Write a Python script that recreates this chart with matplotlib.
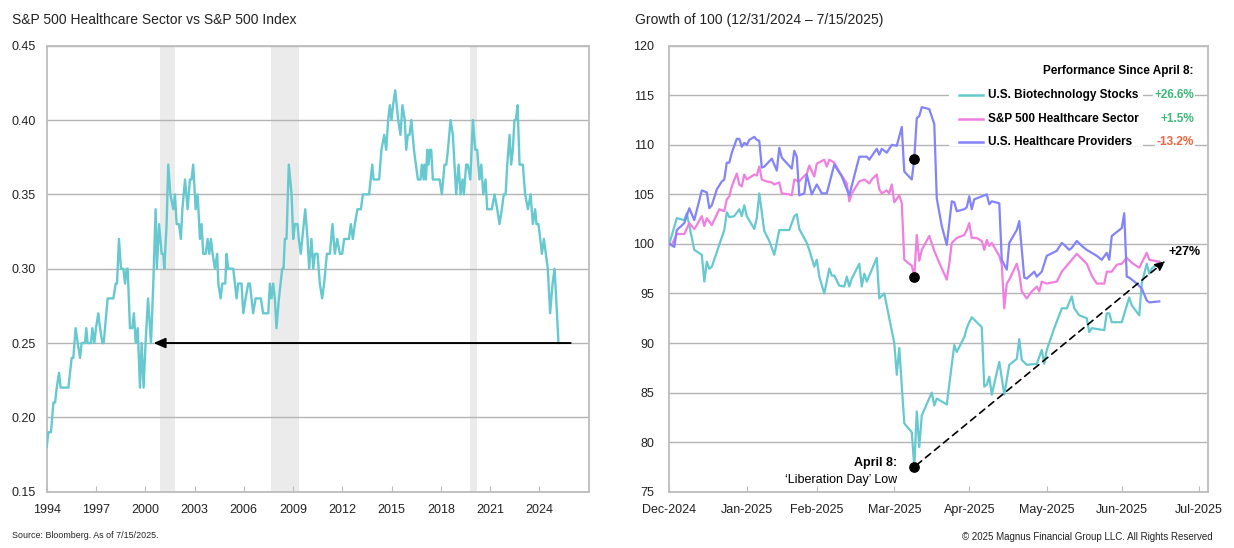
import matplotlib
matplotlib.use("Agg")
import matplotlib.pyplot as plt
import matplotlib.dates as mdates
from matplotlib.ticker import FormatStrFormatter
from matplotlib import font_manager as fm
import numpy as np
import pandas as pd

# ---------------- data: left chart (ratio of S&P 500 HC sector to S&P 500) -------------
ratio_years = [1994.00, 1994.10, 1994.26, 1994.41, 1994.51, 1994.61, 1994.75, 1994.85, 1995.32, 1995.52,
               1995.62, 1995.76, 1995.89, 1996.03, 1996.13, 1996.33, 1996.41, 1996.49, 1996.70, 1996.78,
               1996.90, 1997.00, 1997.14, 1997.25, 1997.39, 1997.47, 1997.55, 1997.71, 1998.06, 1998.20,
               1998.28, 1998.40, 1998.52, 1998.67, 1998.77, 1998.87, 1998.93, 1999.07, 1999.21, 1999.31,
               1999.42, 1999.54, 1999.68, 1999.78, 1999.90, 2000.02, 2000.17, 2000.35, 2000.49, 2000.63,
               2000.71, 2000.84, 2001.00, 2001.10, 2001.16, 2001.30, 2001.40, 2001.53, 2001.71, 2001.81,
               2001.91, 2002.05, 2002.17, 2002.26, 2002.42, 2002.58, 2002.72, 2002.82, 2002.92, 2003.07,
               2003.19, 2003.33, 2003.43, 2003.53, 2003.68, 2003.80, 2003.90, 2004.00, 2004.10, 2004.24,
               2004.38, 2004.45, 2004.59, 2004.69, 2004.87, 2004.95, 2005.05, 2005.36, 2005.56, 2005.66,
               2005.86, 2005.97, 2006.11, 2006.27, 2006.37, 2006.57, 2006.72, 2007.04, 2007.18, 2007.49,
               2007.59, 2007.69, 2007.79, 2007.89, 2007.99, 2008.14, 2008.34, 2008.42, 2008.50, 2008.60,
               2008.74, 2008.91, 2009.01, 2009.11, 2009.27, 2009.35, 2009.47, 2009.56, 2009.74, 2009.88,
               2009.98, 2010.12, 2010.23, 2010.33, 2010.49, 2010.63, 2010.77, 2010.89, 2011.06, 2011.24,
               2011.40, 2011.54, 2011.69, 2011.85, 2011.99, 2012.11, 2012.40, 2012.52, 2012.64, 2012.76,
               2012.92, 2013.13, 2013.25, 2013.63, 2013.82, 2013.90, 2014.24, 2014.38, 2014.55, 2014.67,
               2014.79, 2014.89, 2014.99, 2015.09, 2015.22, 2015.40, 2015.54, 2015.66, 2015.80, 2015.89,
               2015.99, 2016.09, 2016.20, 2016.36, 2016.60, 2016.76, 2016.84, 2016.95, 2017.01, 2017.09,
               2017.17, 2017.25, 2017.33, 2017.41, 2017.51, 2017.92, 2018.06, 2018.22, 2018.33, 2018.43,
               2018.59, 2018.73, 2018.93, 2019.08, 2019.20, 2019.32, 2019.40, 2019.54, 2019.64, 2019.79,
               2019.95, 2020.09, 2020.21, 2020.35, 2020.46, 2020.58, 2020.72, 2020.82, 2021.10, 2021.27,
               2021.43, 2021.57, 2021.71, 2021.83, 2021.94, 2022.04, 2022.18, 2022.28, 2022.38, 2022.48,
               2022.57, 2022.67, 2022.79, 2022.99, 2023.13, 2023.30, 2023.46, 2023.60, 2023.74, 2023.82,
               2023.94, 2024.05, 2024.15, 2024.27, 2024.39, 2024.51, 2024.65, 2024.80, 2024.92, 2025.02,
               2025.16]
ratio_values = [0.18, 0.19, 0.19, 0.21, 0.21, 0.22, 0.23, 0.22, 0.22, 0.24,
                0.24, 0.26, 0.25, 0.24, 0.25, 0.25, 0.26, 0.25, 0.25, 0.26,
                0.25, 0.26, 0.27, 0.26, 0.25, 0.25, 0.26, 0.28, 0.28, 0.29,
                0.29, 0.32, 0.30, 0.30, 0.29, 0.30, 0.30, 0.26, 0.26, 0.27,
                0.25, 0.26, 0.22, 0.25, 0.22, 0.25, 0.28, 0.25, 0.29, 0.34,
                0.30, 0.33, 0.31, 0.31, 0.30, 0.33, 0.37, 0.35, 0.34, 0.35,
                0.33, 0.33, 0.32, 0.34, 0.36, 0.34, 0.36, 0.36, 0.37, 0.34,
                0.35, 0.32, 0.33, 0.31, 0.31, 0.32, 0.31, 0.32, 0.31, 0.30,
                0.31, 0.29, 0.28, 0.29, 0.29, 0.31, 0.30, 0.30, 0.28, 0.29,
                0.29, 0.27, 0.28, 0.29, 0.29, 0.27, 0.28, 0.28, 0.27, 0.27,
                0.29, 0.28, 0.29, 0.28, 0.26, 0.28, 0.30, 0.30, 0.32, 0.32,
                0.37, 0.35, 0.32, 0.33, 0.33, 0.32, 0.31, 0.32, 0.34, 0.32,
                0.30, 0.32, 0.30, 0.31, 0.31, 0.29, 0.28, 0.29, 0.31, 0.31,
                0.33, 0.31, 0.32, 0.31, 0.31, 0.32, 0.32, 0.33, 0.32, 0.33,
                0.34, 0.34, 0.35, 0.35, 0.37, 0.36, 0.36, 0.38, 0.39, 0.38,
                0.40, 0.41, 0.40, 0.41, 0.42, 0.40, 0.39, 0.41, 0.40, 0.38,
                0.39, 0.39, 0.40, 0.38, 0.36, 0.36, 0.37, 0.36, 0.37, 0.36,
                0.38, 0.37, 0.38, 0.38, 0.36, 0.36, 0.35, 0.37, 0.37, 0.38,
                0.40, 0.39, 0.35, 0.37, 0.35, 0.36, 0.35, 0.37, 0.37, 0.36,
                0.40, 0.38, 0.38, 0.36, 0.37, 0.35, 0.36, 0.34, 0.34, 0.35,
                0.34, 0.33, 0.34, 0.35, 0.35, 0.37, 0.39, 0.37, 0.38, 0.40,
                0.40, 0.41, 0.37, 0.37, 0.35, 0.34, 0.35, 0.33, 0.34, 0.33,
                0.33, 0.32, 0.31, 0.32, 0.31, 0.30, 0.27, 0.29, 0.30, 0.28,
                0.25]
recessions = [(2000.89, 2001.81), (2007.63, 2009.39), (2019.79, 2020.21)]
current_level = 0.25
arrow_span = (2025.9, 2000.5)
left_years_ticks = list(range(1994, 2025, 3))

# ---------------- data: right chart (growth of 100, days since 12/31/2024) -------------
start_date = "2024-12-31"
april8_day = 98

biotech_days = [0, 3, 6, 7, 10, 13, 14, 15, 16, 17, 22, 23, 24, 26, 28, 29, 30, 31, 34, 35,
                36, 38, 40, 42, 44, 48, 50, 51, 52, 55, 56, 58, 59, 60, 62, 64, 65, 66, 68, 70,
                71, 72, 73, 76, 77, 78, 79, 83, 84, 86, 90, 91, 92, 94, 97, 98, 99, 100, 101, 105,
                106, 107, 111, 114, 115, 118, 119, 120, 121, 123, 125, 126, 127, 128, 129, 132, 134, 136, 139, 140,
                141, 143, 147, 149, 150, 151, 154, 157, 159, 161, 162, 164, 167, 168, 169, 174, 175, 176, 177, 181,
                184, 185, 188, 189, 191, 192, 193, 196]
biotech_vals = [100.0, 102.6, 102.4, 103.1, 99.4, 98.9, 96.2, 98.2, 97.5, 97.7, 101.4, 103.2, 102.7, 102.8, 103.5, 102.8, 103.9, 102.8, 101.5, 102.6,
                105.1, 101.3, 100.3, 98.9, 101.4, 101.4, 102.8, 103.0, 101.5, 100.1, 99.4, 97.7, 98.4, 96.7, 95.0, 97.5, 96.8, 96.8, 95.8, 95.7,
                96.7, 95.7, 96.5, 98.0, 95.7, 97.0, 96.2, 98.6, 94.5, 95.0, 90.0, 86.8, 89.5, 81.9, 81.0, 77.5, 83.1, 79.5, 82.7, 85.0,
                83.7, 84.4, 83.8, 89.8, 89.1, 90.6, 91.5, 92.1, 92.6, 92.1, 91.6, 85.6, 85.8, 86.6, 84.8, 88.1, 84.8, 87.8, 88.4, 90.4,
                88.3, 87.8, 87.9, 89.3, 87.9, 89.3, 91.5, 93.5, 93.5, 94.7, 93.5, 92.8, 92.5, 91.1, 91.5, 91.3, 93.0, 93.0, 92.1, 92.1,
                94.6, 93.8, 92.8, 96.0, 98.0, 97.0, 97.5, 98.2]

hc_days = [0, 1, 3, 6, 8, 10, 11, 13, 14, 15, 17, 20, 22, 23, 24, 25, 27, 28, 29, 30,
           31, 34, 35, 36, 37, 39, 41, 42, 44, 45, 48, 49, 50, 52, 53, 55, 56, 58, 59, 62,
           63, 64, 66, 68, 71, 72, 73, 76, 78, 80, 81, 83, 84, 85, 87, 88, 89, 90, 92, 93,
           94, 97, 98, 99, 100, 101, 104, 106, 108, 111, 112, 113, 115, 118, 119, 120, 121, 123, 125, 126,
           127, 128, 129, 132, 133, 134, 135, 136, 139, 140, 141, 143, 145, 147, 148, 149, 151, 155, 157, 161,
           163, 165, 167, 169, 171, 174, 175, 177, 179, 181, 183, 185, 188, 191, 192, 196]
hc_vals = [100.0, 99.9, 101.0, 101.0, 102.1, 101.5, 101.9, 102.8, 101.8, 102.6, 101.9, 103.5, 103.3, 104.5, 104.8, 105.8, 107.1, 106.0, 105.8, 107.0,
           106.5, 107.0, 106.9, 107.8, 106.5, 106.3, 106.2, 106.0, 106.2, 105.1, 105.0, 104.9, 106.5, 106.3, 106.6, 107.1, 107.9, 106.8, 108.1, 108.5,
           107.8, 108.5, 108.2, 107.3, 106.1, 104.3, 105.1, 106.3, 106.5, 106.1, 106.5, 107.0, 105.5, 105.1, 105.4, 105.1, 106.0, 104.2, 104.9, 104.1,
           98.4, 97.8, 96.7, 100.9, 98.3, 99.4, 100.8, 99.3, 98.1, 96.4, 98.0, 100.1, 100.6, 100.9, 101.4, 102.1, 100.6, 100.6, 100.3, 99.4,
           100.4, 99.8, 100.1, 98.8, 97.9, 93.5, 96.0, 96.4, 98.0, 97.0, 95.2, 94.5, 95.2, 95.7, 95.2, 96.2, 96.0, 96.2, 97.2, 98.4,
           99.0, 98.5, 98.0, 96.8, 96.0, 96.0, 97.2, 97.2, 97.9, 98.0, 98.6, 98.1, 97.6, 99.1, 98.4, 98.2]

prov_days = [0, 2, 3, 6, 8, 10, 13, 15, 16, 17, 19, 21, 22, 23, 24, 25, 27, 28, 29, 30,
             31, 32, 34, 35, 36, 37, 38, 41, 43, 44, 45, 49, 50, 51, 52, 54, 55, 57, 59, 61,
             63, 66, 69, 72, 76, 79, 80, 83, 84, 85, 87, 89, 91, 93, 94, 97, 98, 99, 100, 101,
             104, 106, 107, 109, 111, 113, 114, 115, 118, 119, 120, 121, 122, 125, 127, 128, 129, 132, 133, 135,
             136, 139, 140, 142, 143, 146, 147, 149, 151, 155, 157, 158, 160, 161, 163, 165, 167, 169, 171, 173,
             175, 176, 177, 180, 181, 182, 183, 184, 187, 189, 191, 192, 196]
prov_vals = [100.0, 99.7, 101.4, 102.1, 103.6, 102.4, 105.4, 105.2, 103.6, 103.9, 105.5, 106.3, 106.5, 108.2, 108.2, 109.2, 110.6, 110.6, 109.8, 110.2,
             110.0, 110.5, 110.8, 110.5, 110.4, 107.7, 107.8, 108.6, 107.4, 109.7, 108.7, 107.6, 109.4, 108.8, 104.9, 105.1, 107.0, 105.0, 106.0, 105.1,
             105.1, 108.0, 106.8, 104.9, 108.8, 108.8, 108.5, 109.6, 109.0, 109.6, 109.2, 110.0, 109.9, 111.8, 107.3, 106.5, 108.6, 112.7, 112.9, 113.8,
             113.6, 112.1, 104.6, 101.8, 99.9, 104.3, 104.2, 103.3, 103.5, 103.7, 104.8, 103.5, 104.5, 104.8, 105.0, 104.0, 104.3, 104.1, 98.4, 97.4,
             100.1, 101.4, 102.3, 96.6, 96.5, 97.2, 96.7, 97.2, 98.8, 99.3, 100.1, 99.9, 99.4, 99.6, 100.3, 99.8, 99.4, 99.1, 98.8, 98.4,
             99.1, 98.4, 100.8, 101.4, 101.6, 103.1, 96.7, 96.6, 96.0, 95.5, 94.3, 94.1, 94.2]

series_names = ["U.S. Biotechnology Stocks", "S&P 500 Healthcare Sector", "U.S. Healthcare Providers"]
perf_labels = ["+26.6%", "+1.5%", "-13.2%"]
gain_label = "+27%"
month_ticks = pd.date_range("2024-12-31", "2025-07-31", freq="ME")

# ---------------- style -------------
TEAL = "#66C9CF"
PINK = "#F07FE0"
BLUE = "#8383FA"
GRID = "#B4B4B4"
SPINE = "#BDBDBD"
TXT = "#222222"
GREEN = "#3DB877"
RED = "#F0643F"

names = {f.name for f in fm.fontManager.ttflist}
NARROW = "Liberation Sans Narrow" if "Liberation Sans Narrow" in names else "Liberation Sans"
plt.rcParams["font.family"] = ["Liberation Sans", "DejaVu Sans"]

W, H = 1234, 548
fig = plt.figure(figsize=(W / 100, H / 100), dpi=100)


def px_axes(x0, x1, ytop, ybot):
    return fig.add_axes([x0 / W, 1 - ybot / H, (x1 - x0) / W, (ybot - ytop) / H])


axL = px_axes(46.7, 588.7, 45.7, 491.7)
axR = px_axes(669.3, 1208.0, 45.7, 491.7)

for ax in (axL, axR):
    for s in ax.spines.values():
        s.set_color(SPINE)
        s.set_linewidth(1.3)
    ax.set_axisbelow(True)
    ax.yaxis.grid(True, color=GRID, lw=1.0)
    ax.tick_params(axis="y", length=0, labelsize=9, colors=TXT)
    ax.tick_params(axis="x", direction="in", length=4, color=SPINE, labelsize=9,
                   labelcolor=TXT, top=False)

# ---------------- left chart -------------
for a, b in recessions:
    axL.axvspan(a, b, color="#EBEBEB", lw=0, zorder=0.2)
axL.plot(ratio_years, ratio_values, color=TEAL, lw=1.7, zorder=3)
axL.set_xlim(1994, 2027)
axL.set_ylim(0.15, 0.45)
axL.set_yticks(np.arange(0.15, 0.4501, 0.05))
axL.yaxis.set_major_formatter(FormatStrFormatter("%.2f"))
axL.set_xticks(left_years_ticks)
axL.tick_params(axis="y", pad=8)
axL.tick_params(axis="x", pad=9)
axL.annotate("", xy=(arrow_span[1], current_level), xytext=(arrow_span[0], current_level),
             arrowprops=dict(arrowstyle="-|>,head_length=0.7,head_width=0.3", color="black",
                             lw=1.4, shrinkA=0, shrinkB=0), zorder=4)
for lab in axL.get_xticklabels() + axL.get_yticklabels():
    lab.set_fontfamily(NARROW)

fig.text(12 / W, 1 - 20 / H, "S&P 500 Healthcare Sector vs S&P 500 Index", fontsize=10,
         color=TXT, va="center", ha="left")

# ---------------- right chart -------------
start = pd.Timestamp(start_date)
def to_dates(days):
    return start + pd.to_timedelta(np.asarray(days), unit="D")

bio_d, hc_d, pr_d = to_dates(biotech_days), to_dates(hc_days), to_dates(prov_days)
l1, = axR.plot(bio_d, biotech_vals, color=TEAL, lw=1.6, zorder=3)
l2, = axR.plot(hc_d, hc_vals, color=PINK, lw=1.6, zorder=3)
l3, = axR.plot(pr_d, prov_vals, color=BLUE, lw=1.6, zorder=3)

apr8 = start + pd.Timedelta(days=april8_day)
dots_y = [prov_vals[prov_days.index(april8_day)], hc_vals[hc_days.index(april8_day)],
          biotech_vals[biotech_days.index(april8_day)]]
axR.scatter([apr8] * 3, dots_y, s=45, color="black", zorder=6)

axR.set_ylim(75, 120)
axR.set_yticks(np.arange(75, 120.1, 5))
axR.set_xlim(start, pd.Timestamp("2025-08-03 12:00"))
axR.set_xticks(month_ticks)
axR.xaxis.set_major_formatter(mdates.DateFormatter("%b-%Y"))
axR.tick_params(axis="y", pad=11)
axR.tick_params(axis="x", pad=9)
for lab in axR.get_xticklabels() + axR.get_yticklabels():
    lab.set_fontfamily(NARROW)

low = biotech_vals[biotech_days.index(april8_day)]
end_day = start + pd.Timedelta(days=biotech_days[-1] + 2.5)
axR.annotate("", xy=(end_day, biotech_vals[-1] + 0.1), xytext=(apr8, low),
             arrowprops=dict(arrowstyle="-|>,head_length=0.6,head_width=0.25", color="black",
                             lw=1.2, ls=(0, (4, 3)), shrinkA=2, shrinkB=0), zorder=7)
axR.annotate(gain_label, xy=(end_day, biotech_vals[-1]), xytext=(2, 7), textcoords="offset points",
             fontsize=9, fontweight="bold", fontfamily=NARROW, ha="left", va="center", color="black")
axR.annotate("April 8:", xy=(apr8, low), xytext=(-12, 2.5), textcoords="offset points",
             fontsize=9, fontweight="bold", fontfamily=NARROW, ha="right", va="center", color="black")
axR.annotate("\u2018Liberation Day\u2019 Low", xy=(apr8, low), xytext=(-12, -9.5), textcoords="offset points",
             fontsize=9, fontfamily=NARROW, ha="right", va="center", color="black")

# legend block (axes coordinates)
axR.add_patch(plt.Rectangle((0.52, 0.775), 0.36, 0.17, transform=axR.transAxes,
                            facecolor="white", edgecolor="none", zorder=4))
axR.text(0.974, 0.944, "Performance Since April 8:", transform=axR.transAxes, fontsize=8.5,
         fontweight="bold", fontfamily=NARROW, ha="right", va="center", zorder=5, color="black")
row_y = [0.890, 0.835, 0.783]
for ln, name, perf, y, pc in zip((l1, l2, l3), series_names, perf_labels, row_y, (GREEN, GREEN, RED)):
    axR.plot([0.537, 0.582], [y, y], transform=axR.transAxes, color=ln.get_color(), lw=1.8,
             zorder=5, clip_on=False)
    axR.text(0.592, y, name, transform=axR.transAxes, fontsize=8.5, fontweight="bold",
             fontfamily=NARROW, ha="left", va="center", zorder=5, color="black")
    axR.text(0.974, y, perf, transform=axR.transAxes, fontsize=8.5, fontweight="bold",
             fontfamily=NARROW, ha="right", va="center", zorder=5, color=pc,
             bbox=dict(facecolor="white", edgecolor="none", pad=1))

fig.text(635 / W, 1 - 20 / H, "Growth of 100 (12/31/2024 \u2013 7/15/2025)", fontsize=10,
         color=TXT, va="center", ha="left")

# footers
fig.text(12 / W, 1 - 536 / H, "Source: Bloomberg. As of 7/15/2025.", fontsize=6.4,
         fontfamily=NARROW, color=TXT, va="center", ha="left")
fig.text(1213 / W, 1 - 537 / H, "\u00a9 2025 Magnus Financial Group LLC. All Rights Reserved", fontsize=7,
         fontfamily=NARROW, color=TXT, va="center", ha="right")

fig.savefig("out.png", dpi=100, facecolor="white")
